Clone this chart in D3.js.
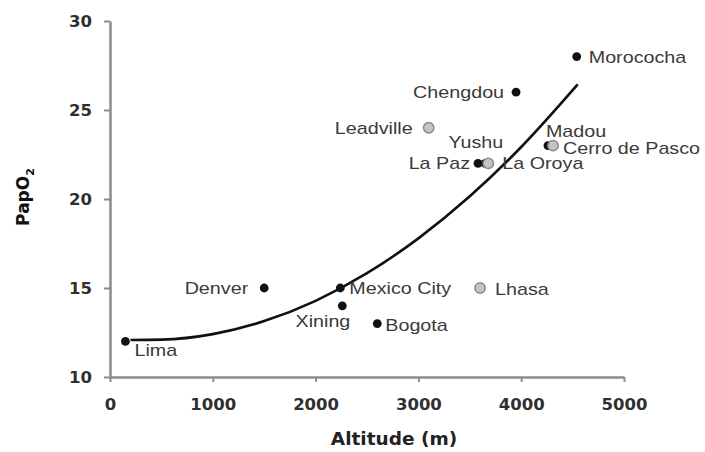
<!DOCTYPE html>
<html>
<head>
<meta charset="utf-8">
<script src="https://cdn.jsdelivr.net/npm/d3@7"></script>
<style>
  html, body { margin: 0; padding: 0; background: #fff; }
  svg { display: block; }
</style>
</head>
<body>
<svg id="chart" width="705" height="452"></svg>
<script>
// ---- data ----
const cities    = ["Lima", "Denver", "Mexico City", "Xining", "Bogota", "Lhasa", "Leadville", "Chengdou", "La Paz", "Yushu", "La Oroya", "Madou", "Cerro de Pasco", "Morococha"];
const altitudes = [150, 1500, 2240, 2260, 2600, 3600, 3100, 3950, 3580, 3650, 3680, 4260, 4310, 4540];
const papo2     = [12, 15, 15, 14, 13, 15, 24, 26, 22, 22, 22, 23, 23, 28];
const groups    = ["black", "black", "black", "black", "black", "gray", "gray", "black", "black", "black", "gray", "black", "gray", "black"];

// fitted trend line
const fitAltitude = [200, 500, 1000, 1500, 2000, 2500, 3000, 3500, 4000, 4550];
const fitPapo2    = [12.08, 12.1, 12.41, 13.14, 14.28, 15.83, 17.79, 20.15, 22.92, 26.44];

const xTicks = [0, 1000, 2000, 3000, 4000, 5000];
const yTicks = [10, 15, 20, 25, 30];

// ---- layout ----
const svg = d3.select("#chart");
const x = d3.scaleLinear().domain([0, 5000]).range([110, 624]);
const y = d3.scaleLinear().domain([10, 30]).range([377, 21]);

const axisColor = "#8c8c8c";
const tickFont = "'DejaVu Sans', Verdana, sans-serif";

// y axis
const gy = svg.append("g").attr("transform", "translate(110,0)")
  .call(d3.axisLeft(y).tickValues(yTicks).tickFormat(d3.format("d")).tickSize(6).tickPadding(12).tickSizeOuter(0));
// x axis
const gx = svg.append("g").attr("transform", "translate(0,377)")
  .call(d3.axisBottom(x).tickValues(xTicks).tickFormat(d3.format("d")).tickSize(5).tickPadding(16).tickSizeOuter(0));

[gx, gy].forEach(g => {
  g.select(".domain").attr("stroke", axisColor).attr("stroke-width", 2.5);
  g.selectAll(".tick line").attr("stroke", axisColor).attr("stroke-width", 2);
  g.selectAll(".tick text")
    .attr("fill", "#2f2f2f")
    .style("font-family", tickFont)
    .style("font-weight", "bold")
    .style("font-size", "16.5px");
});
gx.selectAll(".tick text").attr("dy", "0.71em");

// axis titles
svg.append("text")
  .attr("x", 394).attr("y", 445)
  .attr("text-anchor", "middle")
  .attr("fill", "#222")
  .style("font-family", tickFont).style("font-weight", "bold").style("font-size", "18.5px")
  .text("Altitude (m)");

const yl = svg.append("text")
  .attr("transform", "translate(29,197) rotate(-90)")
  .attr("text-anchor", "middle")
  .attr("fill", "#111")
  .style("font-family", tickFont).style("font-weight", "bold").style("font-size", "17px");
yl.append("tspan").text("PapO");
yl.append("tspan").attr("dy", 5).style("font-size", "11px").text("2");

// fit curve
const fitData = fitAltitude.map((a, i) => [a, fitPapo2[i]]);
svg.append("path")
  .datum(fitData)
  .attr("fill", "none")
  .attr("stroke", "#111")
  .attr("stroke-width", 2.6)
  .attr("d", d3.line().x(d => x(d[0])).y(d => y(d[1])).curve(d3.curveMonotoneX));

// points
const pts = cities.map((c, i) => ({ name: c, alt: altitudes[i], v: papo2[i], g: groups[i] }));
svg.append("g").selectAll("circle")
  .data(pts)
  .join("circle")
  .attr("cx", d => x(d.alt))
  .attr("cy", d => y(d.v))
  .attr("r", d => d.g === "gray" ? 5.2 : 4.4)
  .attr("fill", d => d.g === "gray" ? "#c4c4c4" : "#111")
  .attr("stroke", d => d.g === "gray" ? "#8a8a8a" : "none")
  .attr("stroke-width", 1.5);

// label placement (style only)
const labelPos = {
  "Lima":           { dx: 9,   dy: 15, anchor: "start" },
  "Denver":         { dx: -16, dy: 6,  anchor: "end" },
  "Mexico City":    { dx: 9,   dy: 6,  anchor: "start" },
  "Xining":         { dx: 8,   dy: 21, anchor: "end" },
  "Bogota":         { dx: 8,   dy: 7,  anchor: "start" },
  "Lhasa":          { dx: 15,  dy: 7,  anchor: "start" },
  "Leadville":      { dx: -16, dy: 6,  anchor: "end" },
  "Chengdou":       { dx: -12, dy: 6,  anchor: "end" },
  "La Paz":         { dx: -8,  dy: 6,  anchor: "end" },
  "Yushu":          { dx: 18,  dy: -15, anchor: "end" },
  "La Oroya":       { dx: 14,  dy: 6,  anchor: "start" },
  "Madou":          { dx: -2,  dy: -9, anchor: "start" },
  "Cerro de Pasco": { dx: 10,  dy: 8,  anchor: "start" },
  "Morococha":      { dx: 12,  dy: 6,  anchor: "start" }
};

const sx = 1.16;
svg.append("g").selectAll("text")
  .data(pts)
  .join("text")
  .attr("transform", d => `translate(${x(d.alt) + labelPos[d.name].dx},${y(d.v) + labelPos[d.name].dy}) scale(${sx},1)`)
  .attr("text-anchor", d => labelPos[d.name].anchor)
  .attr("fill", "#3a3a3a")
  .style("font-family", "'Liberation Sans', Arial, sans-serif")
  .style("font-size", "17px")
  .text(d => d.name);
</script>
</body>
</html>
